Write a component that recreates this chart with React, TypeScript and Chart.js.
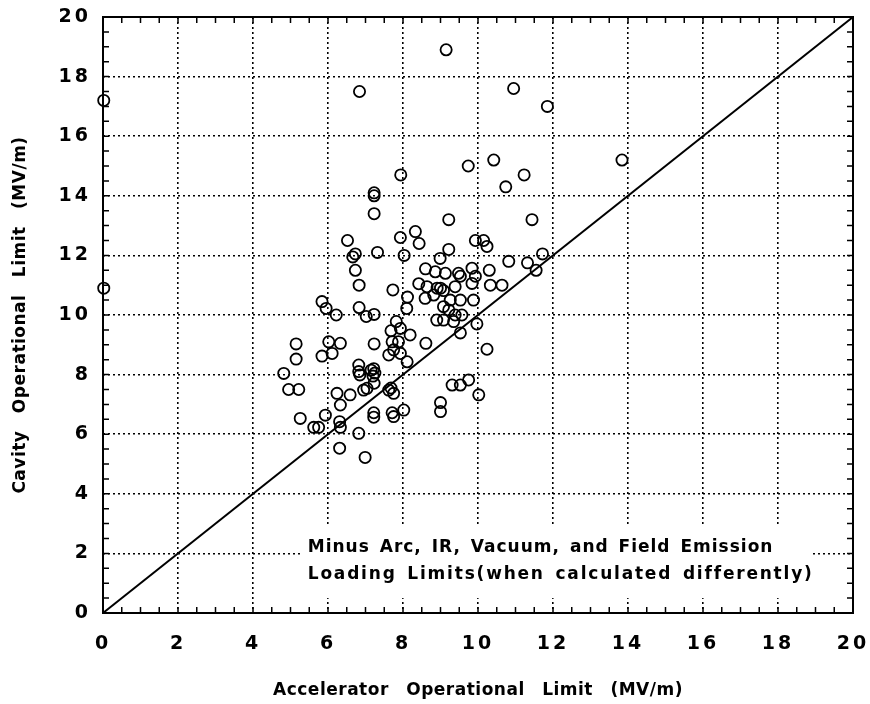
import React, { useEffect, useRef } from "react";
import { Chart, registerables } from "chart.js";

Chart.register(...registerables);

// ---- data ----
const axisMin = 0;
const axisMax = 20;
const majorStep = 2;
const minorStep = 0.5;

const xAxisTitle = "Accelerator Operational Limit (MV/m)";
const yAxisTitle = "Cavity Operational Limit (MV/m)";
const noteLines = [
  "Minus Arc, IR, Vacuum, and Field Emission",
  "Loading Limits(when calculated differently)",
];

// Accelerator operational limit (x) and cavity operational limit (y), MV/m
const acceleratorLimit = [
  0.02, 0.02, 9.15, 6.84, 10.95, 11.85, 13.84, 9.74, 10.42, 11.23,
  10.74, 7.94, 7.23, 7.23, 7.23, 9.22, 11.44, 8.33, 7.93, 8.43,
  6.52, 7.32, 6.73, 6.66, 8.03, 9.22, 8.99, 9.93, 10.15, 10.24,
  10.82, 11.32, 11.72, 11.55, 6.73, 8.6, 8.86, 9.13, 9.48, 9.53,
  9.84, 9.93, 10.3, 6.83, 7.73, 8.42, 8.64, 8.91, 9.0, 9.08,
  8.59, 8.82, 8.12, 9.39, 9.84, 10.33, 10.64, 9.26, 9.53, 9.88,
  5.84, 5.95, 6.22, 6.83, 7.02, 7.23, 8.1, 9.08, 9.22, 9.39,
  9.57, 9.97, 9.08, 9.35, 8.9, 7.82, 7.68, 7.93, 8.19, 9.53,
  10.24, 5.15, 6.02, 6.33, 7.23, 7.88, 8.61, 5.15, 5.84, 6.11,
  4.82, 4.95, 5.22, 6.82, 6.82, 6.85, 7.15, 7.22, 7.25, 7.2,
  7.23, 6.24, 6.33, 6.59, 6.95, 7.04, 7.62, 7.75, 7.68, 5.26,
  5.62, 5.75, 5.93, 6.31, 6.33, 7.22, 7.22, 7.71, 7.75, 8.02,
  7.62, 7.75, 7.93, 8.11, 6.82, 6.31, 6.99, 9.31, 9.53, 9.75,
  10.02, 9.0, 9.0, 7.71,
];
const cavityLimit = [
  17.2, 10.9, 18.9, 17.5, 17.6, 17.0, 15.2, 15.0, 15.2, 14.7,
  14.3, 14.7, 14.1, 14.0, 13.4, 13.2, 13.2, 12.8, 12.6, 12.4,
  12.5, 12.1, 12.05, 11.95, 12.0, 12.2, 11.9, 12.5, 12.5, 12.3,
  11.8, 11.75, 12.05, 11.5, 11.5, 11.55, 11.45, 11.4, 11.4, 11.3,
  11.57, 11.3, 11.5, 11.0, 10.84, 11.05, 10.95, 10.9, 10.9, 10.82,
  10.56, 10.67, 10.6, 10.95, 11.06, 11.0, 11.0, 10.5, 10.5, 10.5,
  10.45, 10.22, 10.0, 10.25, 9.95, 10.02, 10.22, 10.28, 10.17, 10.0,
  10.0, 9.7, 9.83, 9.78, 9.83, 9.78, 9.47, 9.55, 9.33, 9.4,
  8.85, 9.03, 9.1, 9.05, 9.03, 9.1, 9.05, 8.52, 8.62, 8.71,
  8.04, 7.5, 7.5, 8.32, 8.1, 7.99, 8.15, 8.2, 8.05, 7.95,
  7.71, 7.37, 6.98, 7.32, 7.48, 7.54, 7.48, 7.37, 7.55, 6.53,
  6.23, 6.23, 6.64, 6.42, 6.23, 6.72, 6.57, 6.72, 6.59, 6.81,
  8.66, 8.83, 8.71, 8.43, 6.03, 5.53, 5.22, 7.65, 7.65, 7.82,
  7.32, 7.06, 6.76, 9.1,
];

// y = x reference line
const diagonalX = [0, 20];
const diagonalY = [0, 20];

// ---- styling ----
const FONT = "'DejaVu Sans', Verdana, sans-serif";
const NOTE_BOX = { x0: 5.3, x1: 18.9, y0: 0.5, y1: 2.9 };
const NOTE_SPACING = ["1px", "1.8px"];

const framePlugin = {
  id: "frameAndNotes",
  beforeDraw(chart: any) {
    (chart.ctx as any).letterSpacing = "3px";
  },
  beforeDatasetsDraw(chart: any) {
    const { ctx, scales } = chart;
    const x = scales.x;
    const y = scales.y;
    ctx.save();
    ctx.fillStyle = "#ffffff";
    const l = x.getPixelForValue(NOTE_BOX.x0);
    const r = x.getPixelForValue(NOTE_BOX.x1);
    const t = y.getPixelForValue(NOTE_BOX.y1);
    const b = y.getPixelForValue(NOTE_BOX.y0);
    ctx.fillRect(l, t, r - l, b - t);
    ctx.restore();
  },
  afterDatasetsDraw(chart: any) {
    const { ctx, chartArea, scales } = chart;
    const x = scales.x;
    const y = scales.y;
    const { left, right, top, bottom } = chartArea;
    ctx.save();
    ctx.strokeStyle = "#000";
    ctx.lineWidth = 2;
    ctx.setLineDash([]);
    ctx.strokeRect(left, top, right - left, bottom - top);
    ctx.lineWidth = 1.5;
    ctx.beginPath();
    const len = 6;
    for (let v = axisMin; v <= axisMax + 1e-9; v += minorStep) {
      const px = x.getPixelForValue(v);
      ctx.moveTo(px, bottom);
      ctx.lineTo(px, bottom - len);
      ctx.moveTo(px, top);
      ctx.lineTo(px, top + len);
      const py = y.getPixelForValue(v);
      ctx.moveTo(left, py);
      ctx.lineTo(left + len, py);
      ctx.moveTo(right, py);
      ctx.lineTo(right - len, py);
    }
    ctx.stroke();
    ctx.restore();
  },
  afterDraw(chart: any) {
    const { ctx, chartArea, scales } = chart;
    const x = scales.x;
    const y = scales.y;
    ctx.save();
    ctx.fillStyle = "#000";
    ctx.font = `bold 17px ${FONT}`;
    ctx.textBaseline = "middle";
    // note text
    ctx.wordSpacing = "3px";
    ctx.textAlign = "left";
    const nl = x.getPixelForValue(NOTE_BOX.x0) + 6;
    const nt = y.getPixelForValue(NOTE_BOX.y1);
    noteLines.forEach((line, i) => {
      ctx.letterSpacing = NOTE_SPACING[i];
      ctx.fillText(line, nl, nt + 21 + i * 27);
    });
    // axis titles
    ctx.letterSpacing = "0.5px";
    ctx.wordSpacing = "11px";
    ctx.textAlign = "center";
    const cx = (chartArea.left + chartArea.right) / 2;
    ctx.fillText(xAxisTitle, cx, 691);
    const cy = (chartArea.top + chartArea.bottom) / 2;
    ctx.translate(21, cy);
    ctx.rotate(-Math.PI / 2);
    ctx.fillText(yAxisTitle, 0, 0);
    ctx.restore();
  },
};

export default function App() {
  const canvasRef = useRef<HTMLCanvasElement | null>(null);

  useEffect(() => {
    document.body.style.margin = "0";
    const canvas = canvasRef.current;
    if (!canvas) return;
    const points = acceleratorLimit.map((v, i) => ({ x: v, y: cavityLimit[i] }));
    const diag = diagonalX.map((v, i) => ({ x: v, y: diagonalY[i] }));

    const tickFont = { family: FONT, size: 19, weight: "bold" as const };
    const gridFor = (tickLength: number) => ({
      color: "#000",
      lineWidth: 1.6,
      drawTicks: true,
      tickLength,
      tickColor: "rgba(0,0,0,0)",
    });

    const chart = new Chart(canvas, {
      type: "scatter",
      data: {
        datasets: [
          {
            label: "Cavities",
            data: points,
            pointStyle: "circle",
            pointRadius: 5.6,
            pointBorderWidth: 1.8,
            borderColor: "#000",
            backgroundColor: "rgba(0,0,0,0)",
            showLine: false,
            clip: false,
          } as any,
          {
            label: "y = x",
            data: diag,
            showLine: true,
            borderColor: "#000",
            borderWidth: 2,
            pointRadius: 0,
            fill: false,
          } as any,
        ],
      },
      options: {
        animation: false,
        responsive: false,
        devicePixelRatio: 1,
        layout: { padding: { top: 17, right: 17, left: 0, bottom: 0 } },
        plugins: {
          legend: { display: false },
          tooltip: { enabled: false },
        },
        scales: {
          x: {
            type: "linear",
            min: axisMin,
            max: axisMax,
            position: "bottom",
            grid: gridFor(20),
            border: { display: false, dash: [2, 3] },
            ticks: {
              stepSize: majorStep,
              color: "#000",
              font: tickFont,
              padding: 0,
              maxRotation: 0,
              autoSkip: false,
            },
            afterFit: (scale: any) => {
              scale.height = 91;
            },
          },
          y: {
            type: "linear",
            min: axisMin,
            max: axisMax,
            position: "left",
            grid: gridFor(12),
            border: { display: false, dash: [2, 3] },
            ticks: {
              stepSize: majorStep,
              color: "#000",
              font: tickFont,
              padding: 0,
              autoSkip: false,
            },
            afterFit: (scale: any) => {
              scale.width = 103;
            },
          },
        } as any,
      },
      plugins: [framePlugin],
    });
    return () => chart.destroy();
  }, []);

  return (
    <div style={{ position: "absolute", left: 0, top: 0, width: 870, height: 704, background: "#fff" }}>
      <canvas ref={canvasRef} width={870} height={704} style={{ width: 870, height: 704 }} />
    </div>
  );
}
